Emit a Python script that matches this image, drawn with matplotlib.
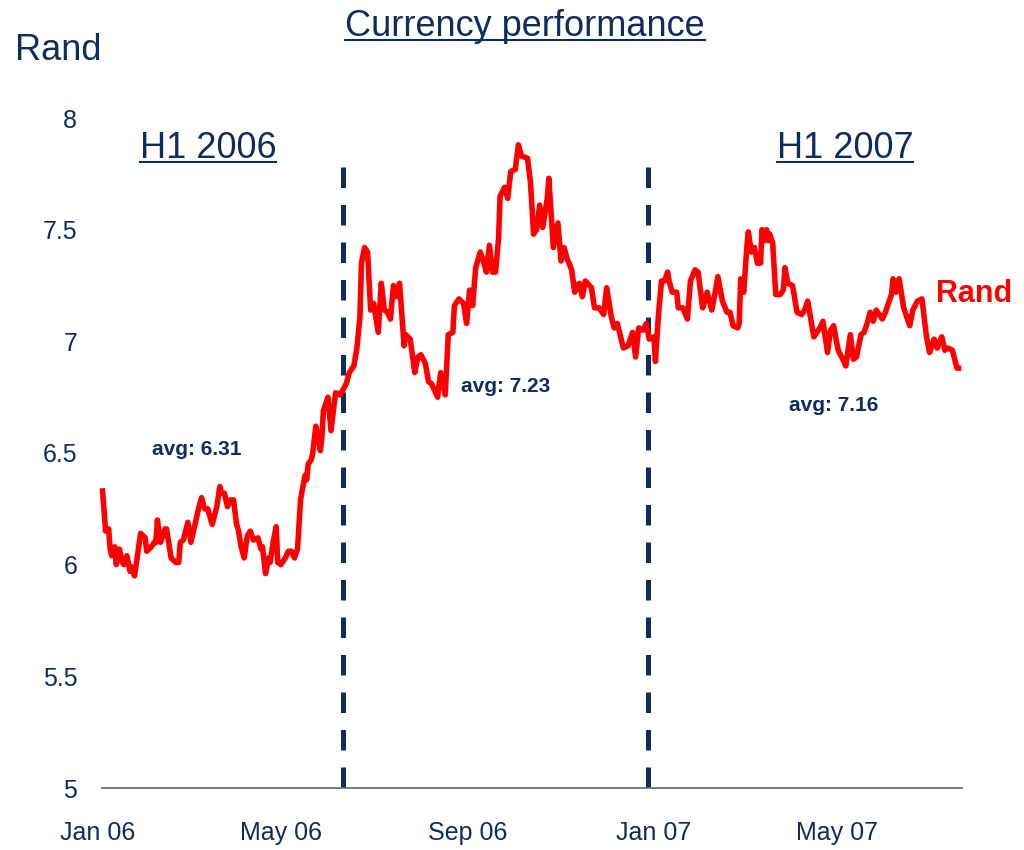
import matplotlib
matplotlib.use("Agg")
import matplotlib.pyplot as plt
import matplotlib.dates as mdates
from matplotlib import font_manager
from matplotlib.lines import Line2D
import pandas as pd

# Rand per US dollar, days counted from 1 Jan 2006
days = [3, 5, 7, 8, 9, 11, 12, 14, 16, 17, 19, 21, 22, 24, 28, 31, 32, 35, 37, 38,
        39, 41, 44, 45, 48, 51, 53, 54, 56, 59, 61, 64, 66, 68, 70, 72, 75, 78, 80, 81,
        83, 85, 87, 89, 91, 92, 94, 96, 98, 100, 102, 105, 107, 108, 110, 112, 113, 115, 117, 118,
        120, 123, 125, 127, 129, 131, 133, 134, 136, 137, 138, 140, 141, 143, 145, 146, 147, 148, 151, 153,
        156, 159, 163, 165, 166, 168, 170, 172, 173, 175, 177, 179, 181, 184, 186, 188, 190, 192, 194, 196,
        198, 201, 202, 205, 208, 210, 212, 215, 217, 219, 221, 223, 225, 228, 230, 233, 234, 237, 240, 242,
        244, 246, 248, 251, 253, 255, 257, 259, 261, 263, 264, 267, 269, 271, 274, 276, 278, 282, 284, 286,
        288, 290, 292, 295, 296, 299, 302, 304, 306, 308, 311, 313, 316, 318, 320, 324, 326, 329, 332, 334,
        337, 339, 341, 345, 348, 351, 353, 355, 358, 360, 362, 365, 366, 368, 370, 372, 374, 375, 377, 380,
        381, 384, 387, 389, 392, 394, 397, 398, 400, 403, 405, 407, 410, 413, 415, 417, 420, 421, 422, 424,
        426, 427, 429, 431, 433, 435, 436, 437, 439, 440, 441, 443, 445, 448, 450, 451, 453, 456, 459, 462,
        464, 466, 470, 474, 476, 479, 481, 483, 486, 489, 491, 494, 496, 498, 501, 503, 505, 507, 509, 511,
        515, 517, 521, 522, 524, 526, 529, 533, 535, 538, 541, 544, 546, 549, 551, 554, 556, 558, 561, 564,
        565]
rand = [6.33, 6.15, 6.16, 6.07, 6.04, 6.08, 6.00, 6.07, 6.01, 6.00, 6.04, 5.97, 5.99, 5.95, 6.14, 6.12, 6.06, 6.08, 6.10, 6.10,
        6.20, 6.10, 6.16, 6.16, 6.03, 6.01, 6.01, 6.10, 6.11, 6.19, 6.10, 6.19, 6.25, 6.30, 6.25, 6.25, 6.18, 6.26, 6.35, 6.32,
        6.32, 6.26, 6.29, 6.29, 6.18, 6.16, 6.08, 6.03, 6.13, 6.15, 6.11, 6.12, 6.07, 6.08, 5.96, 6.03, 6.01, 6.10, 6.17, 6.01,
        6.00, 6.03, 6.06, 6.06, 6.03, 6.07, 6.29, 6.33, 6.40, 6.38, 6.45, 6.47, 6.50, 6.62, 6.56, 6.51, 6.57, 6.69, 6.75, 6.60,
        6.77, 6.76, 6.81, 6.86, 6.87, 6.89, 6.97, 7.11, 7.35, 7.42, 7.40, 7.14, 7.17, 7.04, 7.26, 7.14, 7.13, 7.10, 7.25, 7.20,
        7.26, 6.98, 7.03, 7.01, 6.86, 6.93, 6.94, 6.90, 6.82, 6.81, 6.78, 6.75, 6.86, 6.76, 7.03, 7.04, 7.16, 7.19, 7.17, 7.08,
        7.23, 7.16, 7.33, 7.40, 7.36, 7.31, 7.43, 7.31, 7.31, 7.46, 7.65, 7.69, 7.64, 7.76, 7.77, 7.88, 7.83, 7.82, 7.71, 7.48,
        7.50, 7.61, 7.51, 7.64, 7.73, 7.42, 7.53, 7.36, 7.42, 7.37, 7.32, 7.22, 7.26, 7.20, 7.27, 7.24, 7.15, 7.15, 7.12, 7.24,
        7.11, 7.06, 7.08, 6.97, 6.98, 7.04, 6.93, 7.06, 7.05, 7.08, 7.01, 7.02, 6.91, 7.12, 7.27, 7.27, 7.31, 7.27, 7.22, 7.22,
        7.15, 7.15, 7.10, 7.27, 7.32, 7.31, 7.15, 7.17, 7.22, 7.14, 7.21, 7.29, 7.18, 7.13, 7.13, 7.07, 7.06, 7.08, 7.28, 7.22,
        7.42, 7.49, 7.40, 7.42, 7.35, 7.35, 7.50, 7.45, 7.50, 7.45, 7.48, 7.44, 7.21, 7.21, 7.23, 7.33, 7.26, 7.25, 7.13, 7.12,
        7.14, 7.18, 7.02, 7.06, 7.09, 6.95, 7.05, 7.07, 6.96, 6.92, 6.89, 7.03, 6.92, 6.93, 7.03, 7.04, 7.08, 7.13, 7.09, 7.14,
        7.10, 7.13, 7.21, 7.28, 7.22, 7.28, 7.15, 7.07, 7.14, 7.18, 7.19, 7.02, 6.95, 7.01, 6.97, 7.02, 6.96, 6.97, 6.96, 6.88,
        6.88]

period_breaks = ["2006-06-11", "2006-12-28"]
averages = ["avg: 6.31", "avg: 7.23", "avg: 7.16"]
yticks = [5, 5.5, 6, 6.5, 7, 7.5, 8]
ytick_labels = ["5", "5.5", "6", "6.5", "7", "7.5", "8"]

navy = "#0e2d5e"
red = "#ff0000"
W, H = 1024, 850

names = {f.name for f in font_manager.fontManager.ttflist}
if "Liberation Sans Narrow" in names:
    tick_font, tick_size = "Liberation Sans Narrow", 22
else:
    tick_font, tick_size = "Liberation Sans", 18
plt.rcParams["font.family"] = ["Liberation Sans", "DejaVu Sans"]

start = pd.Timestamp("2006-01-01")
dates = start + pd.to_timedelta(days, unit="D")
x_end = start + pd.Timedelta(days=567.3)

fig = plt.figure(figsize=(W / 100, H / 100), dpi=100)
ax = fig.add_axes([98 / W, 1 - 788 / H, 864 / W, 670 / H])

ax.plot(dates, rand, color=red, lw=4, solid_joinstyle="round", zorder=3)
for d in period_breaks:
    d = pd.Timestamp(d)
    # drawn top to bottom so the pattern starts and ends on a full dash
    ax.plot([d, d], [7.78, 5], color=navy, lw=3.6, dashes=(4.1, 3.4),
            dash_capstyle="butt", zorder=2)

ax.set_ylim(5, 8)
ax.set_xlim(start, x_end)
ax.set_yticks(yticks)
ax.set_yticklabels(ytick_labels)
ax.xaxis.set_major_locator(mdates.MonthLocator(bymonth=[1, 5, 9]))
ax.xaxis.set_major_formatter(mdates.DateFormatter("%b %y"))
ax.tick_params(axis="both", length=0, labelcolor=navy, labelsize=tick_size)
ax.tick_params(axis="y", pad=15)
ax.tick_params(axis="x", pad=24)
for lab in ax.get_xticklabels() + ax.get_yticklabels():
    lab.set_fontfamily(tick_font)
for s in ["top", "right", "left"]:
    ax.spines[s].set_visible(False)
ax.spines["bottom"].set_color("#6f6f6f")
ax.spines["bottom"].set_linewidth(1.3)
ax.spines["bottom"].set_bounds(mdates.date2num(start + pd.Timedelta(days=2.6)),
                               mdates.date2num(x_end))


def ftext(x, y, s, **kw):
    return fig.text(x / W, 1 - y / H, s, va="baseline", **kw)


title = ftext(525, 36, "Currency performance", ha="center", fontsize=26, color=navy)
ftext(15, 60, "Rand", ha="left", fontsize=26, color=navy)
h1a = ftext(208, 158, "H1 2006", ha="center", fontsize=26, color=navy)
h1b = ftext(845, 158, "H1 2007", ha="center", fontsize=26, color=navy)
ftext(197, 455, averages[0], ha="center", fontsize=15, fontweight="bold", color=navy)
ftext(506, 392, averages[1], ha="center", fontsize=15, fontweight="bold", color=navy)
ftext(834, 411, averages[2], ha="center", fontsize=15, fontweight="bold", color=navy)
ftext(936, 302, "Rand", ha="left", fontsize=22, fontweight="bold", color=red)

fig.canvas.draw()
renderer = fig.canvas.get_renderer()
for t, y in [(title, 40), (h1a, 162), (h1b, 162)]:
    bb = t.get_window_extent(renderer).transformed(fig.transFigure.inverted())
    fig.add_artist(Line2D([bb.x0, bb.x1], [1 - y / H, 1 - y / H],
                          transform=fig.transFigure, color=navy, lw=1.5))

fig.savefig("out.png", dpi=100)
